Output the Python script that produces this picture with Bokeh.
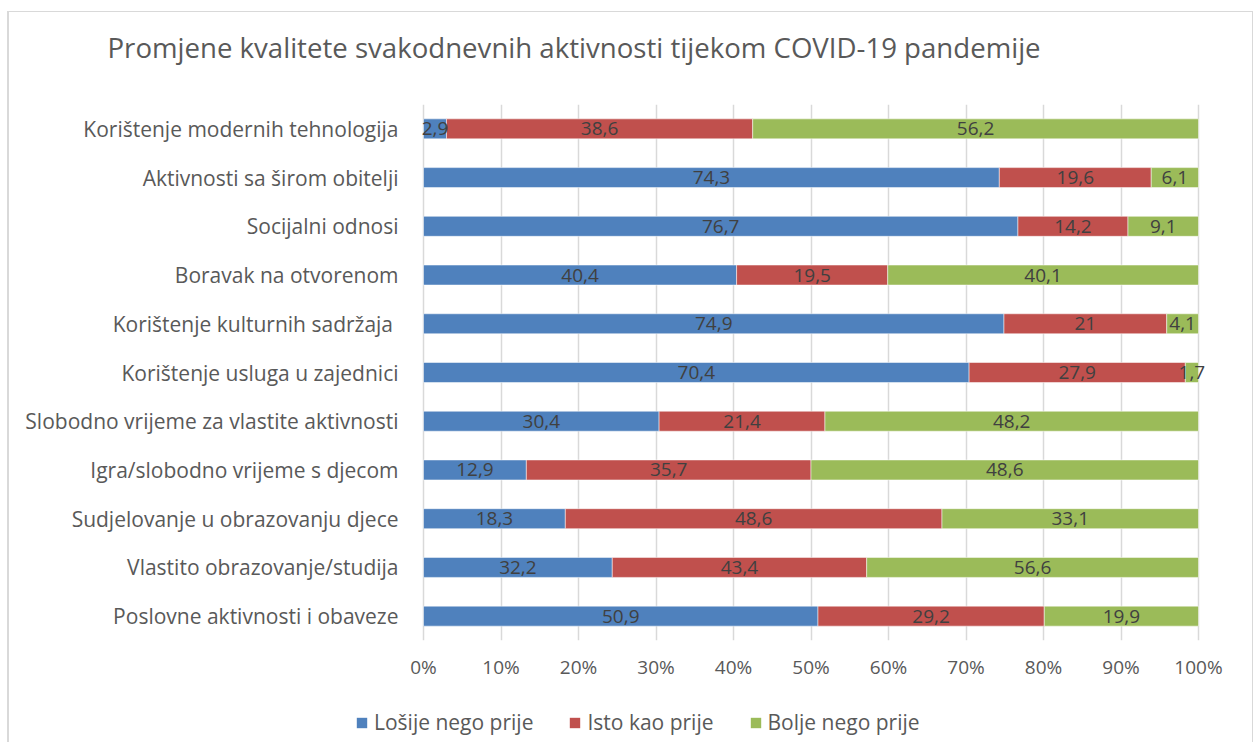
from bokeh.plotting import figure
from bokeh.layouts import column
from bokeh.models import (ColumnDataSource, FactorRange, Range1d, Legend, LegendItem,
                          FixedTicker, Title)
from bokeh.core.properties import value
from bokeh.embed import file_html
from bokeh.resources import INLINE

title_text = "Promjene kvalitete svakodnevnih aktivnosti tijekom COVID-19 pandemije"
categories = [
    "Korištenje modernih tehnologija",
    "Aktivnosti sa širom obitelji",
    "Socijalni odnosi",
    "Boravak na otvorenom",
    "Korištenje kulturnih sadržaja ",
    "Korištenje usluga u zajednici",
    "Slobodno vrijeme za vlastite aktivnosti",
    "Igra/slobodno vrijeme s djecom",
    "Sudjelovanje u obrazovanju djece",
    "Vlastito obrazovanje/studija",
    "Poslovne aktivnosti i obaveze",
]
losije = [2.9, 74.3, 76.7, 40.4, 74.9, 70.4, 30.4, 12.9, 18.3, 32.2, 50.9]
isto = [38.6, 19.6, 14.2, 19.5, 21.0, 27.9, 21.4, 35.7, 48.6, 43.4, 29.2]
bolje = [56.2, 6.1, 9.1, 40.1, 4.1, 1.7, 48.2, 48.6, 33.1, 56.6, 19.9]
series_names = ["Lošije nego prije", "Isto kao prije", "Bolje nego prije"]
colors = ["#4F81BD", "#C0504D", "#9BBB59"]
x_ticks = [0, 10, 20, 30, 40, 50, 60, 70, 80, 90, 100]

FONT = "Open Sans"
W = 1243
BL, BR = 345, 17          # shared left/right borders (frames aligned)
PAD_L = 69                # px between frame left and the 0% line
PAD_R = 37                # px between the 100% line and frame right
PX_PER_UNIT = (W - BL - BR - PAD_L - PAD_R) / 100.0

# 100% stacking
tot = [a + b + c for a, b, c in zip(losije, isto, bolje)]
p1 = [a / t * 100 for a, t in zip(losije, tot)]
p2 = [b / t * 100 for b, t in zip(isto, tot)]
p3 = [c / t * 100 for c, t in zip(bolje, tot)]

def fmt(v):
    s = ("%.1f" % v).rstrip("0").rstrip(".")
    return s.replace(".", ",")

src = ColumnDataSource(dict(cat=categories, s1=p1, s2=p2, s3=p3))

def blank_fig(h, **kw):
    f = figure(width=W, height=h, x_axis_type=None, y_axis_type=None,
               x_range=(0, 1), y_range=(0, 1),
               output_backend="svg", toolbar_location=None,
               min_border_left=BL, min_border_right=BR, **kw)
    f.outline_line_color = None
    f.xgrid.grid_line_color = None
    f.ygrid.grid_line_color = None
    return f

# ---- title strip
pt = blank_fig(92, min_border_top=0, min_border_bottom=0)
pt.add_layout(Title(text=title_text, text_font=FONT, text_font_size="27.6px",
                    text_font_style="normal", text_color="#595959",
                    align="left", offset=-247, standoff=27), "above")

# ---- main chart
p = figure(
    width=W, height=588,
    y_range=FactorRange(factors=categories[::-1]),
    x_range=Range1d(-PAD_L / PX_PER_UNIT, 100 + PAD_R / PX_PER_UNIT),
    output_backend="svg", toolbar_location=None,
    min_border_left=BL, min_border_right=BR, min_border_top=0, min_border_bottom=52,
)
p.outline_line_color = None

renderers = p.hbar_stack(["s1", "s2", "s3"], y="cat", height=0.41, color=colors,
                         line_color="white", line_width=0.5, source=src)

lab_x, lab_y, lab_t = [], [], []
for i, c in enumerate(categories):
    start = 0.0
    for raw, pv in zip((losije[i], isto[i], bolje[i]), (p1[i], p2[i], p3[i])):
        lab_x.append(start + pv / 2)
        lab_y.append(c)
        lab_t.append(fmt(raw))
        start += pv
lsrc = ColumnDataSource(dict(x=lab_x, y=lab_y, t=lab_t))
p.text(x="x", y="y", text="t", source=lsrc, text_align="center", text_baseline="middle",
       text_font=value(FONT), text_font_size="19px", text_color="#404040")

p.xaxis.ticker = FixedTicker(ticks=x_ticks)
p.xaxis.major_label_overrides = {t: f"{t}%" for t in x_ticks}
for ax in (p.xaxis[0], p.yaxis[0]):
    ax.axis_line_color = None
    ax.major_tick_line_color = None
    ax.minor_tick_line_color = None
    ax.major_label_text_font = FONT
    ax.major_label_text_color = "#595959"
p.xaxis.major_label_text_font_size = "19px"
p.yaxis.major_label_text_font_size = "21px"
p.xaxis.major_label_standoff = 7
p.yaxis.major_label_standoff = -(PAD_L - 19)
p.ygrid.grid_line_color = None
p.xgrid.grid_line_color = "#D9D9D9"
p.xgrid.grid_line_width = 1.5

# ---- legend strip (bars drawn out of view, only the legend shows)
pl = blank_fig(50, min_border_top=0, min_border_bottom=0)
pl.x_range.start, pl.x_range.end = 1000, 1001
pl.y_range.start, pl.y_range.end = 1000, 1001
lr = pl.hbar_stack(["s1", "s2", "s3"], y=0.5, height=0.4, color=colors,
                   line_color=None, source=src)
items = [LegendItem(label=n, renderers=[r]) for n, r in zip(series_names, lr)]
leg = Legend(items=items, orientation="horizontal", location=(1, 6),
             glyph_width=13, glyph_height=13, label_standoff=6, spacing=35,
             label_text_font=FONT, label_text_font_size="21px", label_text_color="#595959",
             border_line_color=None, background_fill_alpha=0, padding=0, margin=0)
pl.add_layout(leg, "center")

layout = column(pt, p, pl, spacing=0)
layout.styles = {"border-left": "2px solid #D9D9D9", "border-top": "1px solid #D9D9D9",
                 "border-right": "1px solid #D9D9D9",
                 "margin-left": "7px", "margin-top": "11px"}

open("out.html", "w").write(file_html(layout, INLINE))
